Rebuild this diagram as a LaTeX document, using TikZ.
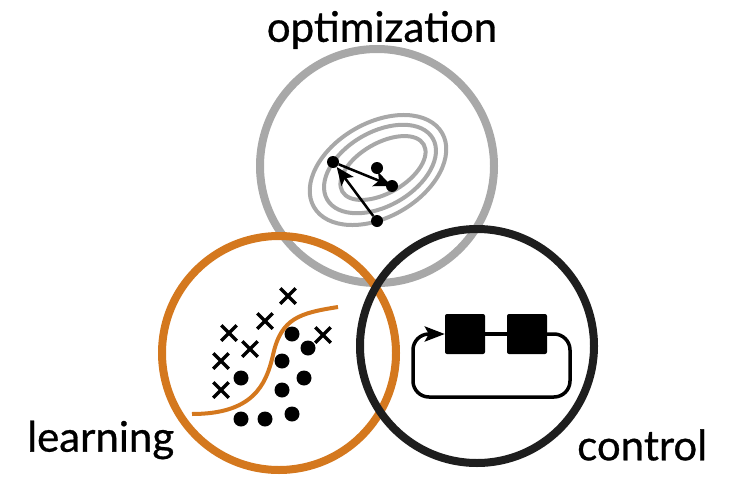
\documentclass[tikz,border=0pt]{standalone}
\usepackage{fontspec}
\setmainfont{Lato}
\newfontfamily\labelfont{Lato}[FakeBold=0.7]
\usetikzlibrary{arrows.meta,shapes.misc}
\definecolor{optgray}{RGB}{168,168,168}
\definecolor{learnorange}{RGB}{212,120,30}
\definecolor{ctrlblack}{RGB}{30,30,30}
\tikzset{
	field/.style = {
		circle,
		draw,
		line width=8pt,
		minimum size=234pt,
		inner sep=0pt
	},
	label/.style = {
		font=\labelfont\fontsize{42}{46}\selectfont,
		inner sep=0pt
	},
	level/.style = {
		draw=optgray,
		line width=4pt
	},
	iterate/.style = {
		circle,
		fill=black,
		minimum size=12pt,
		inner sep=0pt
	},
	step arrow/.style = {
		line width=2.5pt,
		-{Stealth[length=18pt,width=15pt,inset=4pt]}
	},
	sample/.style = {
		circle,
		fill=black,
		minimum size=15pt,
		inner sep=0pt
	},
	other/.style = {
		cross out,
		draw,
		line width=3.5pt,
		minimum size=12pt,
		inner sep=0pt
	},
	block/.style = {
		rectangle,
		fill=black,
		rounded corners=2pt,
		minimum size=40pt,
		inner sep=0pt
	}
}

\begin{document}
\begin{tikzpicture}[x=1pt,y=-1pt]
	\useasboundingbox (0,0) rectangle (750,490);
	% the three fields
	\node[field, draw=optgray] (optimization) at (377,166) {};
	\node[field, draw=learnorange] (learning) at (279,353) {};
	\node[field, draw=ctrlblack] (control) at (477,346) {};
	\node[label] (optlabel) at (382,30) {optimization};
	\node[label, anchor=west] (learnlabel) at (27,440) {learning};
	\node[label, anchor=west] (ctrllabel) at (577,445) {control};
	% level sets and gradient steps
	\draw[level, rotate around={30:(378,170)}] (378,170) ellipse (74 and 47);
	\draw[level, rotate around={30:(380,169)}] (380,169) ellipse (61 and 37);
	\draw[level, rotate around={30:(383,168)}] (383,168) ellipse (47 and 25);
	\node[iterate] (start) at (377,221) {};
	\node[iterate] (first) at (333,162) {};
	\node[iterate] (second) at (392,186) {};
	\node[iterate] (optimum) at (377,168) {};
	\draw[step arrow] (start) -- (first);
	\draw[step arrow] (first) -- (second.center);
	% two classes and the boundary
	\foreach \x/\y [count=\i] in {288/296, 265/321, 229/333, 250/349, 221/361, 221/390, 323/335}
		\node[other] (cross\i) at (\x,\y) {};
	\foreach \x/\y [count=\i] in {292/334, 308/348, 282/361, 241/378, 304/378, 282/390, 241/419, 265/419, 292/414}
		\node[sample] (dot\i) at (\x,\y) {};
	\coordinate (boundleft) at (192,414);
	\coordinate (boundmid) at (273,355);
	\coordinate (boundright) at (338,307);
	\draw[learnorange, line width=4pt] (boundleft) .. controls (252,414) and (266,386) .. (boundmid)
		.. controls (281,318) and (300,313) .. (boundright);
	% feedback loop
	\node[block] (plant) at (465,334) {};
	\node[block] (controller) at (527,334) {};
	\draw[line width=3.5pt] (plant) -- (controller);
	\draw[line width=3.5pt, rounded corners=16pt, -{Stealth[length=20pt,width=15pt,inset=4pt]}]
		(controller.east) -- (570,334) -- (570,397) -- (413,397) -- (413,334) -- (plant.west);
\end{tikzpicture}
\end{document}
